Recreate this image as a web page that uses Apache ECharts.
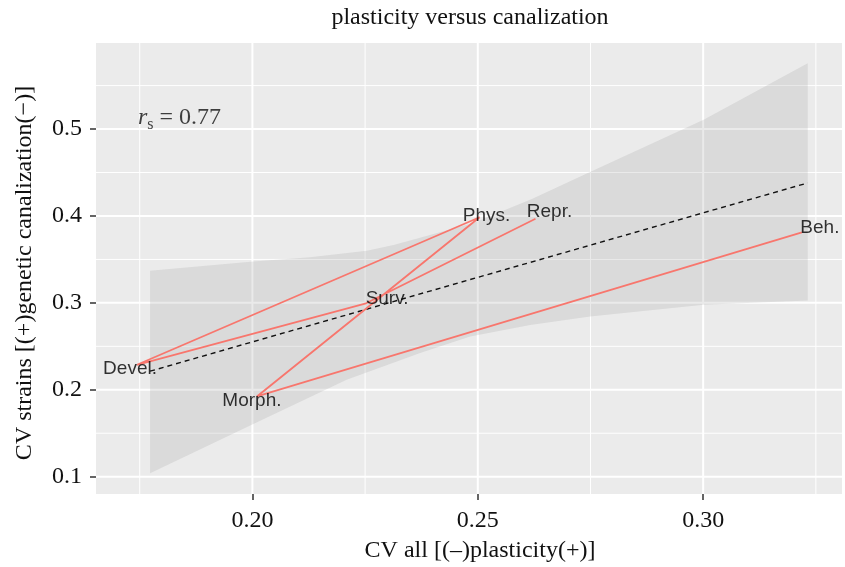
<!DOCTYPE html>
<html><head><meta charset="utf-8">
<script src="https://cdn.jsdelivr.net/npm/echarts@6/dist/echarts.min.js"></script>
<style>html,body{margin:0;padding:0;background:#fff}#c{width:845px;height:567px}</style>
</head><body><div id="c"></div>
<script>
// ---- data ----
const traits = ['Repr.', 'Surv.', 'Devel.', 'Phys.', 'Morph.', 'Beh.'];
const cvAll = [0.2628, 0.2250, 0.1744, 0.2504, 0.2010, 0.3219];
const cvStrains = [0.3968, 0.2990, 0.2288, 0.3985, 0.1923, 0.3810];
const fitX = [0.1773, 0.3232];
const fitY = [0.2214, 0.4380];
const upperX = [0.1773, 0.2002, 0.2128, 0.2254, 0.2313, 0.2372, 0.2490, 0.2620, 0.2749, 0.3001, 0.3232];
const upperY = [0.3369, 0.3476, 0.3525, 0.3600, 0.3665, 0.3750, 0.3918, 0.4195, 0.4505, 0.5107, 0.5756];
const lowerX = [0.1773, 0.2002, 0.2209, 0.2372, 0.2483, 0.2616, 0.2749, 0.3001, 0.3232];
const lowerY = [0.1041, 0.1605, 0.2115, 0.2422, 0.2613, 0.2745, 0.2844, 0.2978, 0.3028];
const xMajor = [0.20, 0.25, 0.30];
const xMinor = [0.175, 0.225, 0.275, 0.325];
const yMajor = [0.1, 0.2, 0.3, 0.4, 0.5];
const yMinor = [0.15, 0.25, 0.35, 0.45, 0.55];
const rsText = '0.77';

// ---- styling ----
const labelOffsets = {
  'Repr.': [14, -7], 'Surv.': [22, -5], 'Devel.': [-7, 4],
  'Phys.': [7, -1], 'Morph.': [-5, 4], 'Beh.': [18, -5]
};
const serif = '"Liberation Serif", "Times New Roman", serif';
const sans = '"Liberation Sans", Arial, sans-serif';

const chart = echarts.init(document.getElementById('c'), null, {renderer: 'canvas'});

const gridItems = [].concat(
  xMajor.map(v => ['x', v, 2]),
  xMinor.map(v => ['x', v, 1]),
  yMajor.map(v => ['y', v, 2]),
  yMinor.map(v => ['y', v, 1])
);

const pathData = traits.map((t, i) => [cvAll[i], cvStrains[i]]);

chart.setOption({
  animation: false,
  grid: {left: 96, right: 3, top: 43, bottom: 73, show: true, backgroundColor: '#EBEBEB', borderWidth: 0},
  xAxis: {
    type: 'value', min: 0.1653, max: 0.3308,
    axisLine: {show: false},
    splitLine: {show: false},
    axisTick: {show: true, customValues: xMajor, length: 6, lineStyle: {color: '#333', width: 1.5}},
    axisLabel: {customValues: xMajor, formatter: v => v.toFixed(2), margin: 15,
      fontFamily: serif, fontSize: 24, color: '#111'}
  },
  yAxis: {
    type: 'value', min: 0.0801, max: 0.599,
    axisLine: {show: false},
    splitLine: {show: false},
    axisTick: {show: true, customValues: yMajor, length: 6, lineStyle: {color: '#333', width: 1.5}},
    axisLabel: {customValues: yMajor, formatter: v => v.toFixed(1), margin: 14,
      fontFamily: serif, fontSize: 24, color: '#111'}
  },
  graphic: [
    {type: 'text', x: 470, y: 18, z: 10, style: {text: 'plasticity versus canalization', font: '24px ' + serif,
      fill: '#111', textAlign: 'center', textVerticalAlign: 'middle'}},
    {type: 'text', x: 480, y: 551, z: 10, style: {text: 'CV all [(–)plasticity(+)]', font: '24px ' + serif,
      fill: '#111', textAlign: 'center', textVerticalAlign: 'middle'}},
    {type: 'text', x: 25, y: 273, rotation: Math.PI / 2, z: 10, style: {text: 'CV strains [(+)genetic canalization(−)]', font: '24px ' + serif,
      fill: '#111', textAlign: 'center', textVerticalAlign: 'middle'}}
  ],
  series: [
    {
      type: 'custom', z: 1, silent: true,
      data: gridItems.map((g, i) => [i]),
      encode: {x: -1, y: -1},
      renderItem: function (params, api) {
        const g = gridItems[params.dataIndex];
        const cs = params.coordSys;
        let p1, p2;
        if (g[0] === 'x') {
          const px = api.coord([g[1], 0.3])[0];
          p1 = [px, cs.y]; p2 = [px, cs.y + cs.height];
        } else {
          const py = api.coord([0.2, g[1]])[1];
          p1 = [cs.x, py]; p2 = [cs.x + cs.width, py];
        }
        return {type: 'line', shape: {x1: p1[0], y1: p1[1], x2: p2[0], y2: p2[1]},
          style: {stroke: '#ffffff', lineWidth: g[2]}};
      }
    },
    {
      type: 'custom', z: 2, silent: true,
      data: [[fitX[0], fitY[0]]],
      renderItem: function (params, api) {
        const pts = [];
        for (let i = 0; i < upperX.length; i++) pts.push(api.coord([upperX[i], upperY[i]]));
        for (let i = lowerX.length - 1; i >= 0; i--) pts.push(api.coord([lowerX[i], lowerY[i]]));
        return {type: 'polygon', shape: {points: pts}, style: {fill: 'rgba(150,150,150,0.2)'}};
      }
    },
    {
      type: 'line', z: 3, symbol: 'none', silent: true,
      data: [[fitX[0], fitY[0]], [fitX[1], fitY[1]]],
      lineStyle: {color: '#111', width: 1.4, type: [5, 4]}
    },
    {
      type: 'line', z: 4, symbol: 'none', silent: true,
      data: pathData,
      lineStyle: {color: '#F8766D', width: 1.8}
    },
    {
      type: 'scatter', z: 5, symbolSize: 0, silent: true,
      data: traits.map((t, i) => ({name: t, value: [cvAll[i], cvStrains[i]],
        label: {offset: labelOffsets[t]}})),
      label: {show: true, position: 'inside', formatter: p => p.name,
        fontFamily: sans, fontSize: 19, color: '#000'}
    },
    {
      type: 'scatter', z: 5, symbolSize: 0, silent: true,
      data: [[0.1746, 0.513]],
      label: {show: true, position: [0, 0], align: 'left', verticalAlign: 'middle',
        formatter: '{r|r}{s|s}{t| = ' + rsText + '}',
        rich: {
          r: {fontFamily: serif, fontStyle: 'italic', fontSize: 24, color: '#111', lineHeight: 30},
          s: {fontFamily: serif, fontSize: 16, color: '#111', lineHeight: 30, padding: [14, 0, 0, 0]},
          t: {fontFamily: serif, fontSize: 24, color: '#111', lineHeight: 30}
        }}
    }
  ]
});
</script></body></html>
